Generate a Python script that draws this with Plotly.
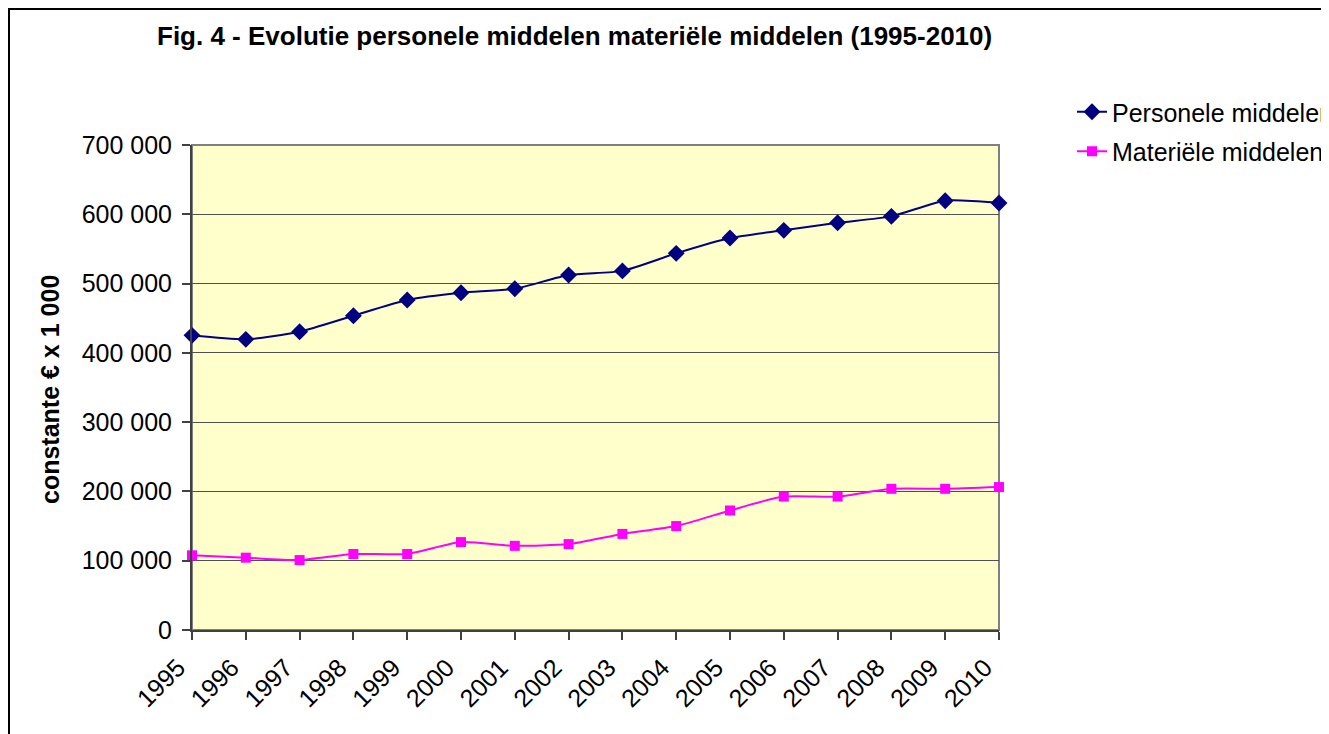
import plotly.graph_objects as go

years = [1995, 1996, 1997, 1998, 1999, 2000, 2001, 2002, 2003, 2004, 2005, 2006, 2007, 2008, 2009, 2010]
personele = [425300, 419500, 430500, 453600, 476300, 486800, 492600, 512300, 518300, 543600, 565700, 576800, 587800, 597000, 619600, 616300]
materiele = [107800, 104400, 100900, 109700, 109700, 126900, 121500, 124000, 138700, 150000, 172500, 192600, 192600, 203800, 203800, 206300]
ytick_vals = [0, 100000, 200000, 300000, 400000, 500000, 600000, 700000]
ytick_text = ["0", "100 000", "200 000", "300 000", "400 000", "500 000", "600 000", "700 000"]
title_text = "Fig. 4 - Evolutie personele middelen materiële middelen (1995-2010)"
ytitle_text = "constante € x 1 000"
names = ["Personele middelen", "Materiële middelen"]

# page offset (browser body margin)
OFF = 8
PAGE_W, PAGE_H = 1329, 734
W, H = PAGE_W - OFF, PAGE_H - OFF
# plot area in page pixels
P_LEFT, P_RIGHT, P_TOP, P_BOTTOM = 192, 999, 145, 630
L = P_LEFT - OFF
R = W - (P_RIGHT - OFF)
T = P_TOP - OFF
B = H - (P_BOTTOM - OFF)
pw, ph = W - L - R, H - T - B

def px_x(p):
    return (p - OFF - L) / pw

def px_y(p):
    return (H - B - (p - OFF)) / ph

FONT = "Liberation Sans, Arial, sans-serif"

fig = go.Figure()
fig.add_trace(go.Scatter(
    x=years, y=personele, name=names[0], mode="lines+markers",
    line=dict(color="#000080", width=2, shape="spline", smoothing=0.6),
    marker=dict(symbol="diamond", size=13, color="#000080"),
    cliponaxis=False, legendgroup="a",
))
fig.add_trace(go.Scatter(
    x=years, y=materiele, name=names[1], mode="lines+markers",
    line=dict(color="#FF00FF", width=2, shape="spline", smoothing=0.6),
    marker=dict(symbol="square", size=10, color="#FF00FF"),
    cliponaxis=False, legendgroup="b",
))

fig.update_layout(
    width=W, height=H,
    margin=dict(l=L, r=R, t=T, b=B, autoexpand=False),
    paper_bgcolor="white",
    plot_bgcolor="#FFFFCC",
    font=dict(family=FONT, size=25, color="black"),
    showlegend=True,
    legend=dict(
        x=px_x(1072), y=px_y(89), xanchor="left", yanchor="top",
        font=dict(size=25), bgcolor="rgba(0,0,0,0)",
        tracegroupgap=4, itemwidth=30,
    ),
    shapes=[
        dict(type="rect", xref="paper", yref="paper", x0=0, x1=1, y0=0, y1=1,
             line=dict(color="#808080", width=2), layer="below"),
        dict(type="line", xref="paper", yref="paper", x0=px_x(OFF + 1), x1=px_x(OFF + 1), y0=px_y(OFF), y1=px_y(PAGE_H + 20),
             line=dict(color="black", width=2)),
        dict(type="line", xref="paper", yref="paper", x0=px_x(OFF), x1=px_x(PAGE_W + 20), y0=px_y(OFF + 1), y1=px_y(OFF + 1),
             line=dict(color="black", width=2)),
    ],
    annotations=[
        dict(text="<b>" + title_text + "</b>", xref="paper", yref="paper",
             x=px_x(574), y=px_y(36), xanchor="center", yanchor="middle",
             showarrow=False, font=dict(size=26)),
        dict(text="<b>" + ytitle_text + "</b>", xref="paper", yref="paper",
             x=px_x(50), y=px_y(390), xanchor="center", yanchor="middle",
             textangle=-90, showarrow=False, font=dict(size=25)),
    ],
)

fig.update_xaxes(
    type="linear", range=[years[0], years[-1]],
    tickmode="array", tickvals=years, ticktext=[str(y) for y in years],
    tickangle=-45, ticks="outside", ticklen=8, tickcolor="#404040", tickwidth=2,
    ticklabelstandoff=3, ticklabelshift=-14,
    showgrid=False, zeroline=False,
    showline=True, linecolor="#404040", linewidth=2,
    tickfont=dict(size=25),
)
fig.update_yaxes(
    range=[0, 700000],
    tickmode="array", tickvals=ytick_vals, ticktext=ytick_text,
    ticks="outside", ticklen=8, tickcolor="#404040", tickwidth=2,
    ticklabelstandoff=5,
    showgrid=True, gridcolor="#505050", gridwidth=1,
    zeroline=False,
    showline=True, linecolor="#404040", linewidth=2,
    tickfont=dict(size=25),
)

fig.write_html("out.html")
